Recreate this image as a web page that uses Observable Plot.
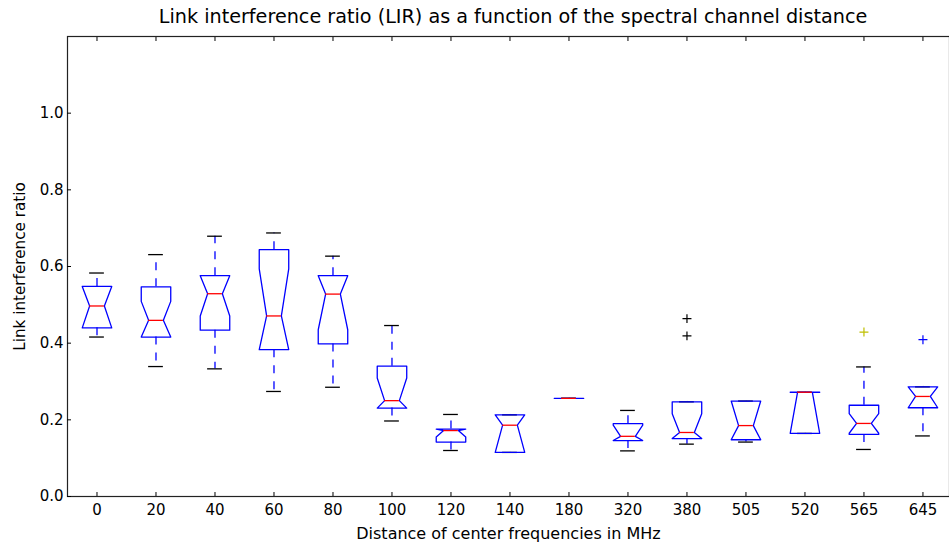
<!DOCTYPE html>
<html>
<head>
<meta charset="utf-8">
<script src="https://cdn.jsdelivr.net/npm/d3@7"></script>
<script src="https://cdn.jsdelivr.net/npm/@observablehq/plot@0.6"></script>
<style>
  html, body { margin: 0; padding: 0; background: #fff; }
  #title { width: 949px; height: 30px; font-family: "DejaVu Sans", sans-serif; font-size: 19.2px; color: #000; position: relative; }
  #title span { position: absolute; left: 513px; top: 6px; transform: translateX(-50%); white-space: nowrap; line-height: 1.15; }
</style>
</head>
<body>
<div id="title"><span>Link interference ratio (LIR) as a function of the spectral channel distance</span></div>
<div id="chart"></div>
<script>
const categories = ["0","20","40","60","80","100","120","140","180","320","380","505","520","565","645"];
const whiskerLo = [0.416,0.339,0.333,0.274,0.285,0.197,0.120,0.115,0.256,0.119,0.1366,0.142,0.1645,0.1227,0.158];
const q1        = [0.440,0.416,0.434,0.383,0.398,0.2306,0.142,0.115,0.256,0.146,0.151,0.148,0.1645,0.162,0.2315];
const notchLo   = [0.440,0.416,0.471,0.383,0.435,0.2306,0.155,0.115,0.256,0.146,0.151,0.148,0.1645,0.165,0.2315];
const median    = [0.497,0.4595,0.529,0.471,0.528,0.250,0.172,0.186,0.256,0.157,0.167,0.185,0.272,0.1906,0.261];
const notchHi   = [0.548,0.509,0.576,0.594,0.576,0.309,0.176,0.213,0.256,0.186,0.216,0.249,0.272,0.216,0.286];
const q3        = [0.548,0.547,0.576,0.644,0.576,0.340,0.176,0.213,0.256,0.190,0.247,0.249,0.272,0.238,0.286];
const whiskerHi = [0.583,0.631,0.679,0.6875,0.627,0.446,0.214,0.213,0.256,0.2245,0.247,0.249,0.272,0.338,0.286];
const fliers = [
  {cat: "380", value: 0.464, color: "black"},
  {cat: "380", value: 0.419, color: "black"},
  {cat: "565", value: 0.429, color: "#bfbf00"},
  {cat: "645", value: 0.409, color: "blue"}
];
const yTicks = [0, 0.2, 0.4, 0.6, 0.8, 1.0];

const boxes = categories.map((c, i) => ({
  cat: c, pos: i + 1,
  wl: whiskerLo[i], q1: q1[i], nl: notchLo[i], med: median[i], nh: notchHi[i], q3: q3[i], wh: whiskerHi[i]
}));
const hw = 0.25, nw = 0.125;
const outline = boxes.flatMap(b => [
  [b.pos - hw, b.q1], [b.pos - hw, b.nl], [b.pos - nw, b.med], [b.pos - hw, b.nh], [b.pos - hw, b.q3],
  [b.pos + hw, b.q3], [b.pos + hw, b.nh], [b.pos + nw, b.med], [b.pos + hw, b.nl], [b.pos + hw, b.q1],
  [b.pos - hw, b.q1]
].map(([x, y]) => ({cat: b.cat, x, y})));
const flierData = fliers.map(f => ({...f, pos: categories.indexOf(f.cat) + 1}));
const positions = categories.map((c, i) => i + 1);

const font = "DejaVu Sans, sans-serif";
const chart = Plot.plot({
  width: 949,
  height: 513,
  marginTop: 6,
  marginBottom: 47,
  marginLeft: 67,
  marginRight: 0,
  style: {fontFamily: font, fontSize: "15px", color: "#000", background: "#fff", overflow: "visible"},
  x: {domain: [0.5, 15.45]},
  y: {domain: [0, 1.2]},
  marks: [
    Plot.ruleX(boxes, {x: "pos", y1: "q1", y2: "wl", stroke: "blue", strokeWidth: 1.3, strokeDasharray: "8,8"}),
    Plot.ruleX(boxes, {x: "pos", y1: "q3", y2: "wh", stroke: "blue", strokeWidth: 1.3, strokeDasharray: "8,8"}),
    Plot.ruleY(boxes, {y: "wl", x1: d => d.pos - nw, x2: d => d.pos + nw, stroke: "black", strokeWidth: 1.3}),
    Plot.ruleY(boxes, {y: "wh", x1: d => d.pos - nw, x2: d => d.pos + nw, stroke: "black", strokeWidth: 1.3}),
    Plot.line(outline, {x: "x", y: "y", z: "cat", stroke: "blue", strokeWidth: 1.3, curve: "linear"}),
    Plot.ruleY(boxes, {y: "med", x1: d => d.pos - nw, x2: d => d.pos + nw, stroke: "red", strokeWidth: 1.3}),
    Plot.dot(flierData, {x: "pos", y: "value", symbol: "plus", r: 3, stroke: "color", strokeWidth: 1.2}),
    Plot.frame({stroke: "#222", strokeWidth: 1.2}),
    Plot.axisY({ticks: yTicks, tickFormat: d3.format(".1f"), tickSize: -4, tickPadding: 8, fontSize: 15,
      label: null}),
    Plot.axisY({ticks: [], label: "Link interference ratio", labelAnchor: "center", labelArrow: "none", labelOffset: 53, fontSize: 15.2}),
    Plot.axisX({ticks: positions, tickFormat: d => categories[d - 1], tickSize: -4, tickPadding: 12, fontSize: 15,
      label: null}),
    Plot.axisX({ticks: [], label: "Distance of center frequencies in MHz", labelAnchor: "center", labelArrow: "none", labelOffset: 42, fontSize: 16, dx: 4}),
    Plot.axisX({anchor: "top", ticks: positions, tickFormat: () => "", tickSize: -4, label: null})
  ]
});
document.getElementById("chart").appendChild(chart);
</script>
</body>
</html>
